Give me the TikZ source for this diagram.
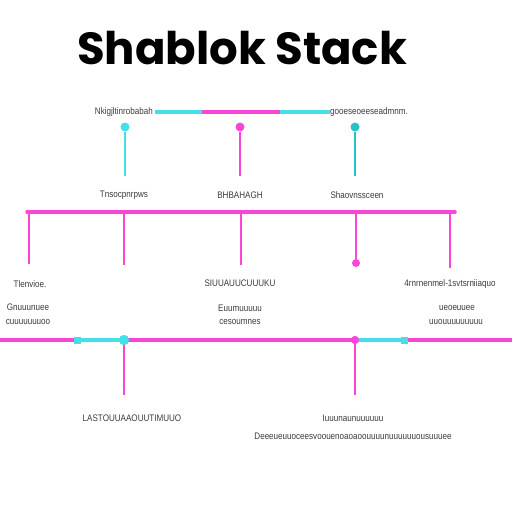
\documentclass[tikz,border=0pt]{standalone}
\usepackage{fontspec}
\setmainfont{Liberation Sans}
\newfontfamily\titlefont{Poppins}
\definecolor{mag}{RGB}{250,70,215}
\definecolor{cya}{RGB}{70,222,232}
\definecolor{tea}{RGB}{35,195,200}
\definecolor{txt}{RGB}{60,60,60}
\begin{document}
\begin{tikzpicture}[x=1pt,y=-1pt,
  lbl/.style={text=txt,font=\fontsize{9.5}{10}\selectfont,inner sep=0pt,xscale=0.85},
  mline/.style={draw=mag,line width=3.5pt,line cap=round},
  vline/.style={draw=mag,line width=2.8pt},
  dot/.style={circle,fill=#1,inner sep=0pt,minimum size=9pt},
  sq/.style={fill=cya,inner sep=0pt,minimum size=7pt}]
\useasboundingbox (0,0) rectangle (512,512);
\fill[white] (0,0) rectangle (512,512);
% title
\node (title) at (242,48) {\titlefont\bfseries\fontsize{45}{48}\selectfont Shablok Stack};
% top bar
\node[lbl,anchor=east] (tl) at (153,112) {Nkigjltinrobabah};
\node[lbl,anchor=west] (tr) at (330,112) {gooeseoeeseadmnm.};
\coordinate (t1) at (155,112);
\coordinate (t2) at (202,112);
\coordinate (t3) at (280,112);
\coordinate (t4) at (330,112);
\draw[cya,line width=4pt] (t1) -- (t2);
\draw[mag,line width=4pt] (t2) -- (t3);
\draw[cya,line width=4pt] (t3) -- (t4);
% dots and drops
\node[dot=cya] (d1) at (125,127) {};
\node[dot=mag] (d2) at (240,127) {};
\node[dot=tea] (d3) at (355,127) {};
\coordinate (e1) at (125,176);
\coordinate (e2) at (240,176);
\coordinate (e3) at (355,176);
\draw[cya,line width=2.8pt] (d1) -- (e1);
\draw[mag,line width=2.8pt] (d2) -- (e2);
\draw[tea,line width=2.8pt] (d3) -- (e3);
\node[lbl] (l1) at (124,195) {Tnsocpnrpws};
\node[lbl] (l2) at (240,195) {BHBAHAGH};
\node[lbl] (l3) at (357,195) {Shaovnssceen};
% middle bus
\coordinate (b0) at (27,212);
\coordinate (b5) at (455,212);
\draw[mline] (b0) -- (b5);
\coordinate (u1) at (29,212);  \coordinate (v1) at (29,264);
\coordinate (u2) at (124,212); \coordinate (v2) at (124,265);
\coordinate (u3) at (241,212); \coordinate (v3) at (241,265);
\coordinate (u4) at (356,212);
\coordinate (u5) at (450,212); \coordinate (v5) at (450,268);
\node[dot=mag,minimum size=8pt] (d4) at (356,263) {};
\draw[vline] (u1) -- (v1);
\draw[vline] (u2) -- (v2);
\draw[vline] (u3) -- (v3);
\draw[vline] (u4) -- (d4);
\draw[vline] (u5) -- (v5);
% labels row
\node[lbl] (m1) at (30,284) {Tlenvioe.};
\node[lbl] (m2) at (240,283) {SIUUAUUCUUUKU};
\node[lbl] (m3) at (450,284) {4rnrnenmel-1svtsrniiaquo};
\node[lbl] (n1a) at (28,307) {Gnuuunuee};
\node[lbl] (n1b) at (28,322) {cuuuuuuuoo};
\node[lbl] (n2a) at (240,308) {Euumuuuuu};
\node[lbl] (n2b) at (240,322) {cesoumnes};
\node[lbl] (n3a) at (457,308) {ueoeuuee};
\node[lbl] (n3b) at (456,322) {uuouuuuuuuuu};
% bottom bus
\coordinate (c0) at (0,340);
\node[dot=cya,minimum size=10pt] (cd) at (124,340) {};
\node[dot=mag,minimum size=8pt] (md) at (355,340) {};
\node[sq] (s1) at (77,340) {};
\node[sq] (s2) at (404,340) {};
\coordinate (c5) at (512,340);
\draw[mag,line width=3.5pt] (c0) -- (s1.center);
\draw[cya,line width=3.5pt] (s1.center) -- (cd.center);
\draw[mag,line width=3.5pt] (cd.center) -- (md.center);
\draw[cya,line width=3.5pt] (md.center) -- (s2.center);
\draw[mag,line width=3.5pt] (s2.center) -- (c5);
\coordinate (w1) at (124,395);
\coordinate (w2) at (355,395);
\draw[vline] (cd.center) -- (w1);
\draw[vline] (md.center) -- (w2);
\node[sq] at (s1) {};
\node[sq] at (s2) {};
\node[dot=cya,minimum size=10pt] at (cd) {};
\node[dot=mag,minimum size=8pt] at (md) {};
% bottom labels
\node[lbl] (o1) at (132,418) {LASTOUUAAOUUTIMUUO};
\node[lbl] (o2) at (353,418) {Iuuunaunuuuuuu};
\node[lbl] (o3) at (353,436) {Deeeueuuoceesvoouenoaoaoouuuunuuuuuuousuuuee};
\end{tikzpicture}
\end{document}
